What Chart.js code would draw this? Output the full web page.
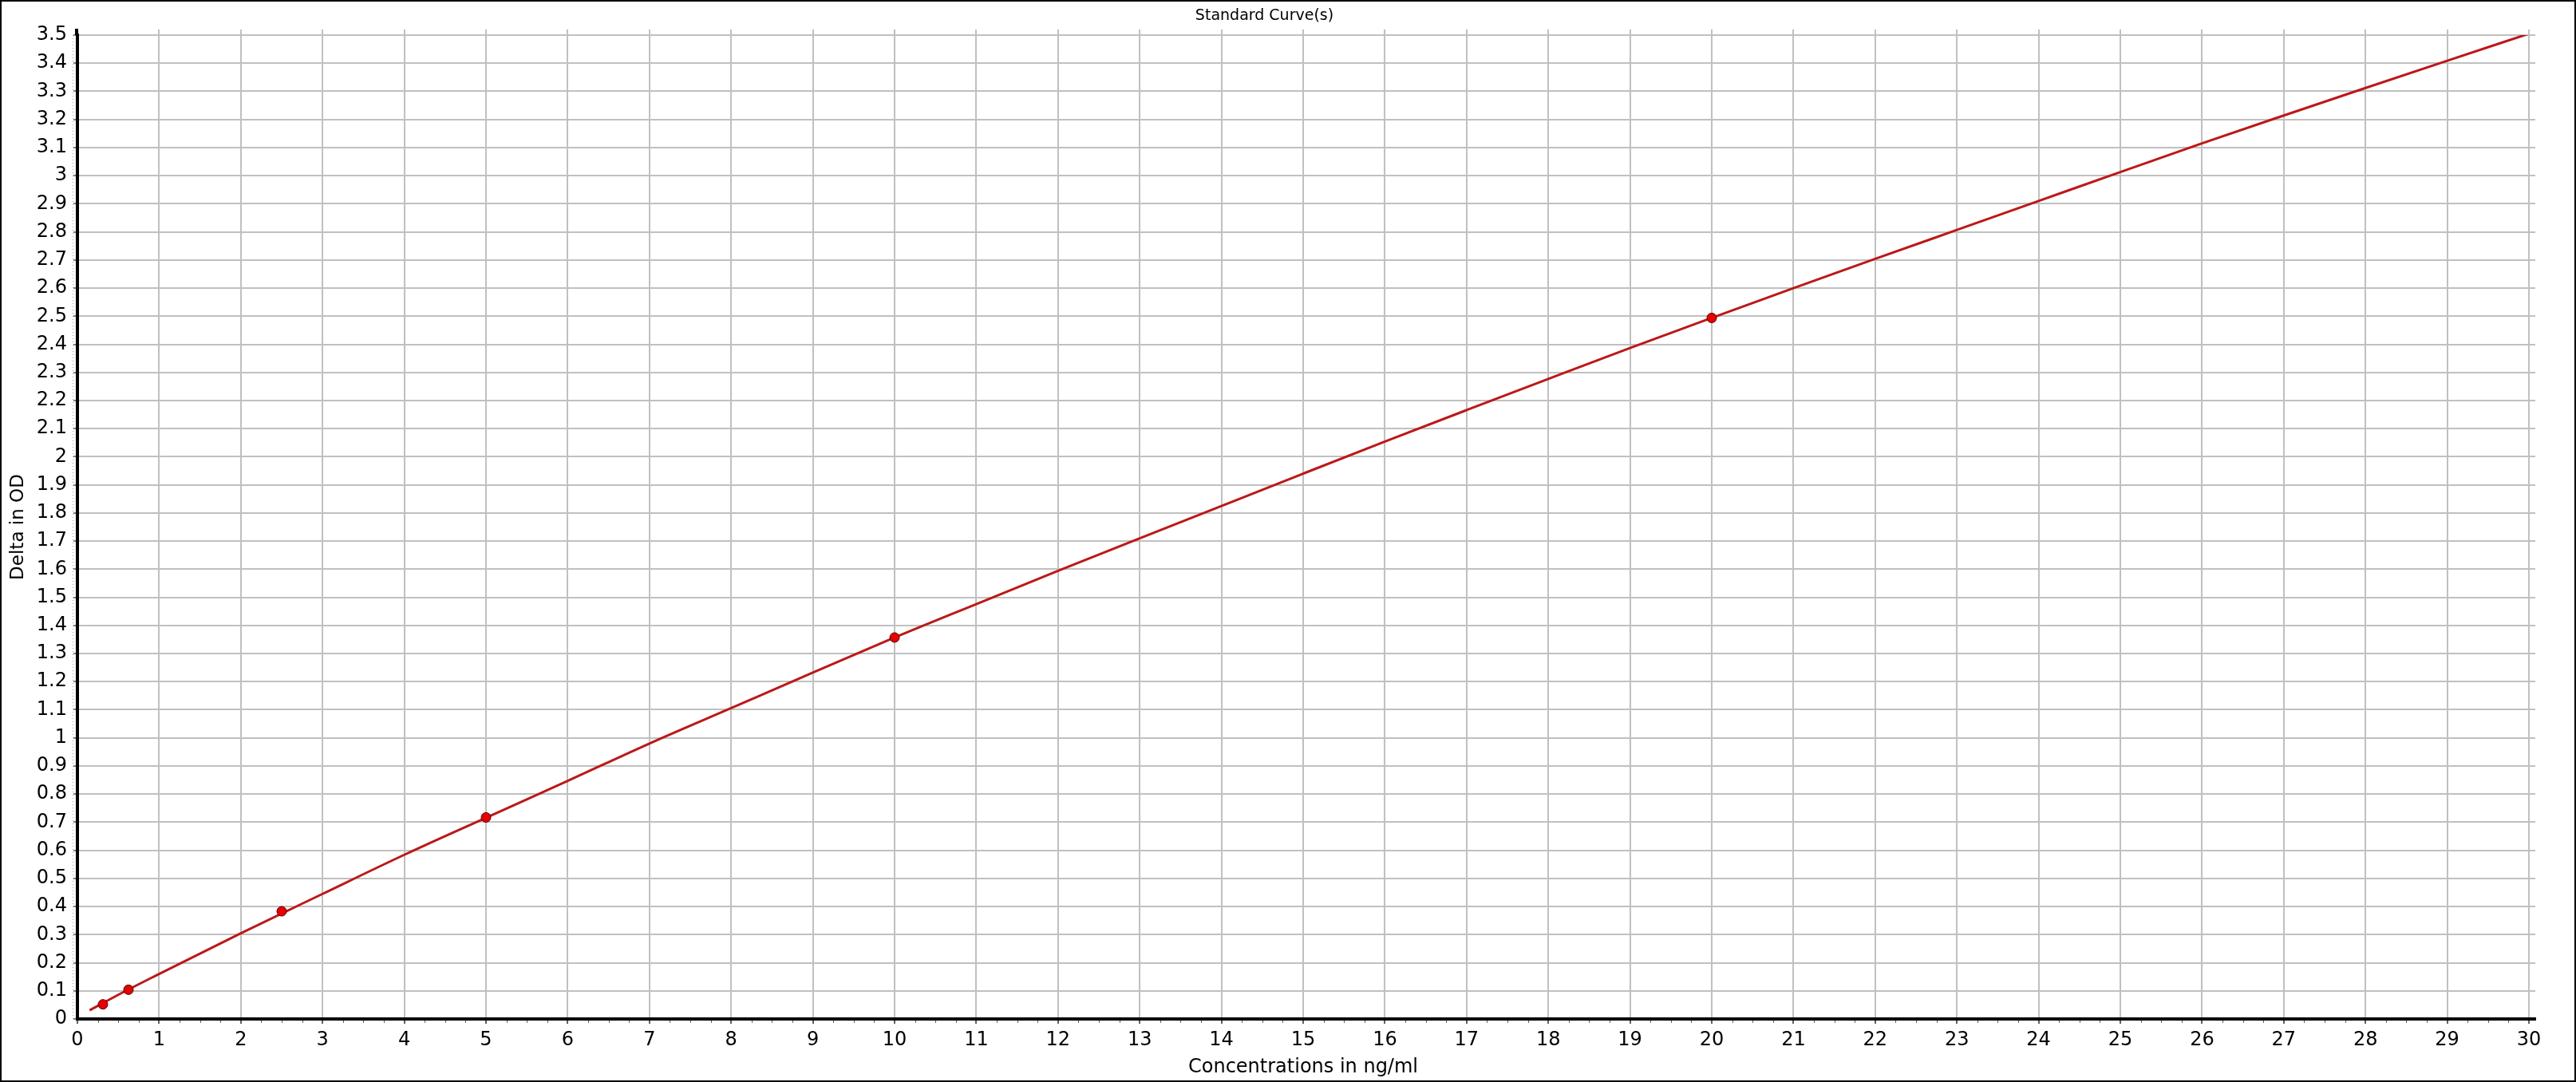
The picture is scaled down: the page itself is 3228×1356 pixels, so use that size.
<!DOCTYPE html>
<html>
<head>
<meta charset="utf-8">
<script src="https://cdn.jsdelivr.net/npm/chart.js@4.4.0/dist/chart.umd.min.js"></script>
<style>
  html, body { margin: 0; padding: 0; background: #fff; overflow: hidden; }
  #wrap { width: 3228px; height: 1356px; }
</style>
</head>
<body>
<div id="wrap"><canvas id="c" width="3228" height="1356"></canvas></div>
<script>
// ---- Data ----
const chartTitle = "Standard Curve(s)";
const xAxisTitle = "Concentrations in ng/ml";
const yAxisTitle = "Delta in OD";

// Fitted standard curve
const curveX = [0.15, 0.5, 1, 2, 3, 4, 5, 6, 7, 8, 9, 10, 11, 12, 13, 14, 15,
                16, 17, 18, 19, 20, 21, 22, 23, 24, 25, 26, 27, 28, 29, 30];
const curveY = [0.031, 0.086, 0.160, 0.305, 0.445, 0.584, 0.716, 0.847, 0.980, 1.106,
                1.232, 1.357, 1.476, 1.594, 1.710, 1.825, 1.940, 2.054, 2.166, 2.277,
                2.387, 2.494, 2.600, 2.704, 2.807, 2.910, 3.013, 3.115, 3.214, 3.312,
                3.409, 3.505];

// Measured standards
const stdX = [0.3125, 0.625, 2.5, 5, 10, 20];
const stdY = [0.052, 0.104, 0.383, 0.717, 1.357, 2.494];

// Axis ranges / ticks
const xMin = 0, xMax = 30, xStep = 1;
const yMin = 0, yMax = 3.5, yStep = 0.1;

const curvePts = curveX.map((x, i) => ({x: x, y: curveY[i]}));
const stdPts = stdX.map((x, i) => ({x: x, y: stdY[i]}));

const FONT = "'DejaVu Sans', Verdana, sans-serif";

const decor = {
  id: 'decor',
  beforeDatasetsDraw(chart) {
    const ctx = chart.ctx;
    const a = chart.chartArea;
    const xs = chart.scales.x, ys = chart.scales.y;
    ctx.save();
    // grid extensions beyond plot (right and top)
    ctx.strokeStyle = '#c0c0c0';
    ctx.lineWidth = 2;
    ctx.beginPath();
    ys.ticks.forEach(t => {
      const py = Math.round(ys.getPixelForValue(t.value));
      ctx.moveTo(a.right, py); ctx.lineTo(a.right + 8, py);
    });
    xs.ticks.forEach(t => {
      const px = Math.round(xs.getPixelForValue(t.value));
      ctx.moveTo(px, a.top - 7); ctx.lineTo(px, a.top);
    });
    ctx.stroke();
    // minor ticks on x axis
    ctx.strokeStyle = '#606060';
    ctx.lineWidth = 1;
    ctx.beginPath();
    for (let v = xMin; v <= xMax + 1e-9; v += 0.25) {
      const px = Math.round(xs.getPixelForValue(v)) + 0.5;
      ctx.moveTo(px, a.bottom + 2); ctx.lineTo(px, a.bottom + 5);
    }
    ctx.stroke();
    // minor dotted ticks on y axis
    ctx.strokeStyle = '#9a9a9a';
    ctx.setLineDash([1, 3]);
    ctx.beginPath();
    ctx.moveTo(a.left - 5.5, a.top); ctx.lineTo(a.left - 5.5, a.bottom);
    ctx.stroke();
    ctx.setLineDash([]);
    // axis line extensions
    ctx.fillStyle = '#000';
    ctx.fillRect(a.left - 3, a.top - 8, 4, 8);
    ctx.fillRect(a.right, a.bottom - 2, 9, 4);
    ctx.restore();
  },
  afterDraw(chart) {
    const ctx = chart.ctx;
    ctx.save();
    ctx.strokeStyle = '#000';
    ctx.lineWidth = 2;
    ctx.strokeRect(1, 1, chart.width - 2, chart.height - 2);
    ctx.restore();
  }
};

new Chart(document.getElementById('c'), {
  type: 'scatter',
  data: {
    datasets: [
      {
        label: 'Curve',
        data: curvePts,
        showLine: true,
        borderColor: 'rgb(188,24,24)',
        borderWidth: 3,
        pointRadius: 0,
        pointHoverRadius: 0,
        fill: false,
        cubicInterpolationMode: 'monotone',
        order: 2
      },
      {
        label: 'Standards',
        data: stdPts,
        showLine: false,
        pointRadius: 6,
        pointBackgroundColor: 'rgb(232,0,0)',
        pointBorderColor: 'rgb(80,0,0)',
        pointBorderWidth: 1,
        order: 1
      }
    ]
  },
  options: {
    responsive: false,
    animation: false,
    devicePixelRatio: 1,
    layout: { padding: { left: 0, right: 59, top: 0, bottom: 0 } },
    plugins: {
      legend: { display: false },
      tooltip: { enabled: false },
      title: {
        display: true,
        text: chartTitle,
        color: '#000',
        font: { family: FONT, size: 19, weight: 'normal', lineHeight: 1.2 },
        padding: { top: 9, bottom: 12.2 }
      }
    },
    scales: {
      x: {
        type: 'linear',
        min: xMin, max: xMax,
        afterFit(s) { s.height = 79; },
        ticks: {
          stepSize: xStep,
          autoSkip: false,
          maxRotation: 0,
          color: '#000',
          font: { family: FONT, size: 24 },
          padding: 6,
          callback: v => String(Math.round(v))
        },
        grid: {
          color: '#c0c0c0',
          lineWidth: 2,
          drawTicks: true,
          tickLength: 6,
          tickColor: '#606060'
        },
        border: { display: true, color: '#000', width: 4 },
        title: {
          display: true,
          text: xAxisTitle,
          color: '#000',
          font: { family: FONT, size: 24, lineHeight: 1.2 },
          padding: { top: 0, bottom: 4 }
        }
      },
      y: {
        type: 'linear',
        min: yMin, max: yMax,
        afterFit(s) { s.width = 97; },
        ticks: {
          stepSize: yStep,
          autoSkip: false,
          color: '#000',
          font: { family: FONT, size: 24 },
          padding: 8,
          callback: v => String(+v.toFixed(1))
        },
        grid: {
          color: '#c0c0c0',
          lineWidth: 2,
          drawTicks: true,
          tickLength: 5,
          tickColor: '#808080'
        },
        border: { display: true, color: '#000', width: 4 },
        title: {
          display: true,
          text: yAxisTitle,
          color: '#000',
          font: { family: FONT, size: 23, lineHeight: 1.2 },
          padding: { top: 9, bottom: 0 }
        }
      }
    }
  },
  plugins: [decor]
});
</script>
</body>
</html>
